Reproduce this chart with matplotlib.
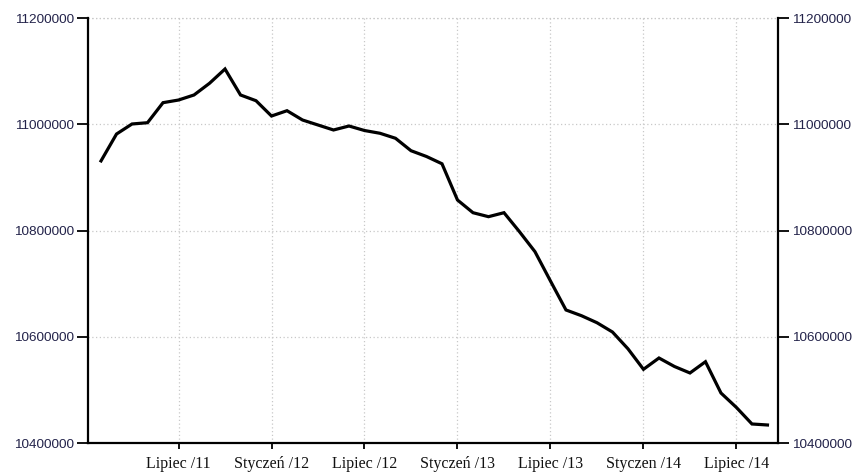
import matplotlib
matplotlib.use("Agg")
import matplotlib.pyplot as plt

# monthly values, Feb 2011 .. Sep 2014
values = [
    10931000, 10981600, 11000500, 11002900, 11040600, 11045600, 11055100, 11077100, 11104000,
    11055100, 11044300,
    11015500, 11025500, 11008000, 10998600, 10989200, 10996700, 10988200, 10983000, 10973600,
    10950200, 10939300, 10925600,
    10857400, 10833500, 10826000, 10833500, 10797700, 10760100, 10704900, 10650400, 10639600,
    10626400, 10608900, 10577300,
    10538700, 10560000, 10544000, 10531800, 10553000, 10494100, 10466800, 10435800, 10433900,
]
tick_positions = [5, 11, 17, 23, 29, 35, 41]
tick_labels = ["Lipiec /11", "Styczeń /12", "Lipiec /12", "Styczeń /13",
               "Lipiec /13", "Styczen /14", "Lipiec /14"]
y_ticks = [10400000, 10600000, 10800000, 11000000, 11200000]
y_labels = ["10400000", "10600000", "10800000", "11000000", "11200000"]

fig = plt.figure(figsize=(8.57, 4.74), dpi=100)
ax = fig.add_axes([88/857, 31/474, 690/857, 425/474])

x = list(range(len(values)))
ax.plot(x, values, color="black", lw=2.3, solid_joinstyle="miter", zorder=3)

ax.set_xlim(-0.84, 43.68)
ax.set_ylim(10400000, 11200000)

ax.set_yticks(y_ticks)
ax.set_yticklabels(y_labels, family=["Liberation Sans"], fontsize=9.7, color="#23234a")
ax.set_xticks(tick_positions)
ax.set_xticklabels(tick_labels, family=["Liberation Serif"], fontsize=11.5, color="#111111")

ax.tick_params(axis="y", which="both", direction="out", length=8, width=1.3,
               left=True, right=True, labelleft=True, labelright=True, pad=2)
ax.tick_params(axis="x", direction="out", length=4, width=1.3, pad=5)

for s in ["left", "right", "bottom"]:
    ax.spines[s].set_linewidth(1.6)
    ax.spines[s].set_color("black")
ax.spines["top"].set_visible(False)

ax.grid(True, color="#c8c8c8", linestyle=(0, (1, 2)), linewidth=0.9, zorder=0)
ax.axhline(11200000, color="#c8c8c8", linestyle=(0, (1, 2)), linewidth=0.9, zorder=0,
           clip_on=False)

fig.savefig("out.png", dpi=100)
